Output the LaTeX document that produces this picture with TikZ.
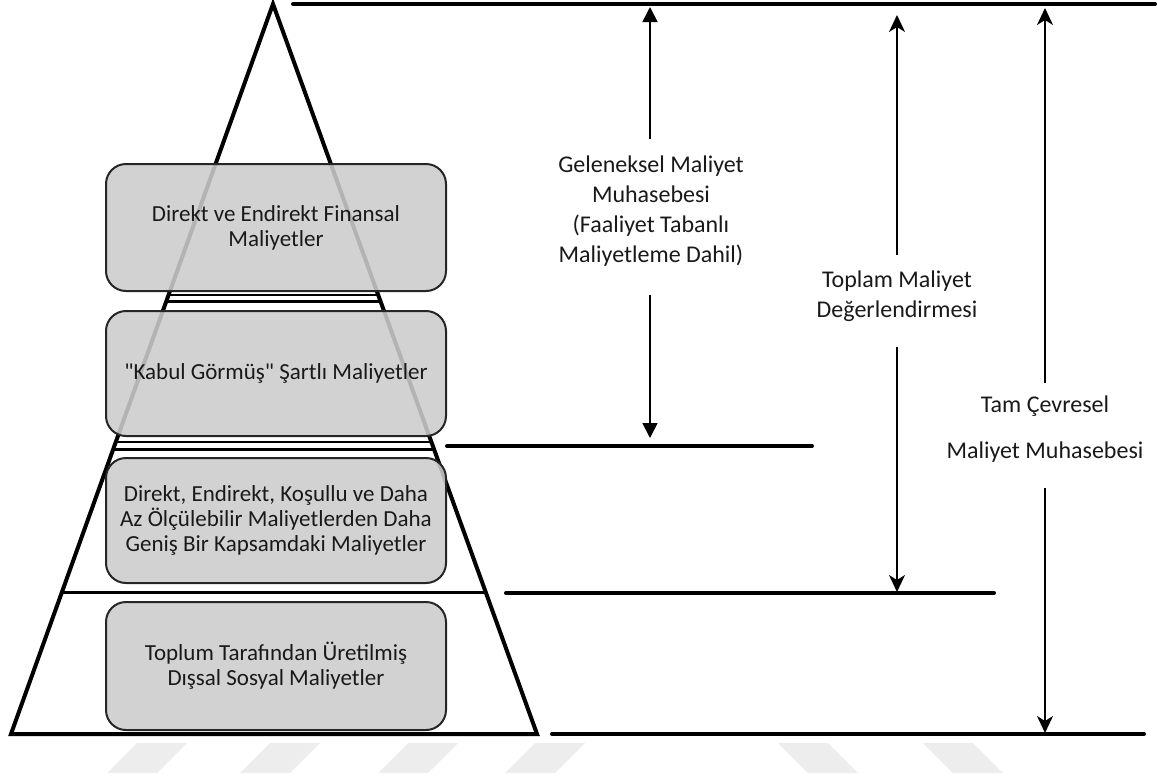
\documentclass[tikz,border=0pt]{standalone}
\usepackage{fontspec}
\setmainfont{Carlito}[Ligatures=TeXOff]
\usetikzlibrary{arrows.meta,calc}

\begin{document}
\begin{tikzpicture}[x=1pt,y=-1pt,
  layerbox/.style={draw=black!85, line width=2pt, rounded corners=20pt,
    fill=black!20, fill opacity=0.88, text opacity=1, text=black!90,
    minimum width=340pt, inner sep=0pt, align=center,
    font=\fontsize{23}{25}\selectfont},
  outline/.style={line width=4pt, line join=miter},
  rule/.style={line width=4pt, line cap=round},
  divider/.style={line width=3pt},
  thin divider/.style={line width=1.8pt},
  scalelabel/.style={align=center, inner sep=0pt, text=black!90,
    font=\fontsize{24}{30}\selectfont},
  spantri/.style={-{Triangle[length=15pt,width=15pt]}, line width=1.7pt},
  spanstealth/.style={-{Stealth[length=17pt,width=16pt,inset=5pt]}, line width=1.7pt},
  wmark/.style={fill=black!7, draw=none}
]
\useasboundingbox (0,0) rectangle (1157,780);

% faint band of slanted marks along the bottom
\foreach \a in {107,240,378,505}
  \fill[wmark] (\a,773) -- (\a+50,773) -- (\a+80,743) -- (\a+30,743) -- cycle;
\foreach \a in {778,923}
  \fill[wmark] (\a,743) -- (\a+50,743) -- (\a+80,773) -- (\a+30,773) -- cycle;

% pyramid outline
\coordinate (apex) at (273,4);
\coordinate (bl) at (11,734);
\coordinate (br) at (537,734);
\draw[outline] (bl) -- (apex) -- (br) -- cycle;

% dividers between the layers
\coordinate (d1l) at ($(apex)!0.3986!(bl)$);  \coordinate (d1r) at ($(apex)!0.3986!(br)$);
\coordinate (d2l) at ($(apex)!0.4082!(bl)$);  \coordinate (d2r) at ($(apex)!0.4082!(br)$);
\coordinate (d3l) at ($(apex)!0.6000!(bl)$);  \coordinate (d3r) at ($(apex)!0.6000!(br)$);
\coordinate (d4l) at ($(apex)!0.6096!(bl)$);  \coordinate (d4r) at ($(apex)!0.6096!(br)$);
\coordinate (d5l) at ($(apex)!0.8068!(bl)$);  \coordinate (d5r) at ($(apex)!0.8068!(br)$);
\draw[thin divider] (d1l) -- (d1r);
\draw[divider] (d2l) -- (d2r);
\draw[thin divider] (d3l) -- (d3r);
\draw[divider] (d4l) -- (d4r);
\draw[divider] (d5l) -- (d5r);

% cost layers
\node[layerbox, minimum height=127pt] (fin) at (276,227.5)
  {Direkt ve Endirekt Finansal\\Maliyetler};
\node[layerbox, minimum height=125pt] (cond) at (276,373.5)
  {"Kabul Görmüş" Şartlı Maliyetler};
\node[layerbox, minimum height=125pt] (wide) at (276,520.5)
  {Direkt, Endirekt, Koşullu ve Daha\\Az Ölçülebilir Maliyetlerden Daha\\Geniş Bir Kapsamdaki Maliyetler};
\node[layerbox, minimum height=128pt] (soc) at (276,666)
  {Toplum Tarafından Üretilmiş\\Dışsal Sosyal Maliyetler};

% reference rules on the right
\coordinate (r0a) at (293,4);   \coordinate (r0b) at (1155,4);
\coordinate (r1a) at (447,446); \coordinate (r1b) at (812,446);
\coordinate (r2a) at (506,593); \coordinate (r2b) at (994,593);
\coordinate (r3a) at (552,734); \coordinate (r3b) at (1144,734);
\draw[rule] (r0a) -- (r0b);
\draw[rule] (r1a) -- (r1b);
\draw[rule] (r2a) -- (r2b);
\draw[rule] (r3a) -- (r3b);

% scope labels
\node[scalelabel] (gel) at (651,211)
  {Geleneksel Maliyet\\Muhasebesi\\(Faaliyet Tabanlı\\Maliyetleme Dahil)};
\node[scalelabel] (top) at (897,296)
  {Toplam Maliyet\\Değerlendirmesi};
\node[scalelabel] (tam) at (1045,429)
  {Tam Çevresel\\[16pt]Maliyet Muhasebesi};

% scope arrows
\coordinate (g0) at (650,139); \coordinate (g1) at (650,7);
\coordinate (g2) at (650,295); \coordinate (g3) at (650,438);
\coordinate (t0) at (897,255); \coordinate (t1) at (897,15);
\coordinate (t2) at (897,347); \coordinate (t3) at (897,592);
\coordinate (c0) at (1045,383); \coordinate (c1) at (1045,8);
\coordinate (c2) at (1045,488); \coordinate (c3) at (1045,733);
\draw[spantri] (g0) -- (g1);
\draw[spantri] (g2) -- (g3);
\draw[spanstealth] (t0) -- (t1);
\draw[spanstealth] (t2) -- (t3);
\draw[spanstealth] (c0) -- (c1);
\draw[spanstealth] (c2) -- (c3);
\end{tikzpicture}
\end{document}
